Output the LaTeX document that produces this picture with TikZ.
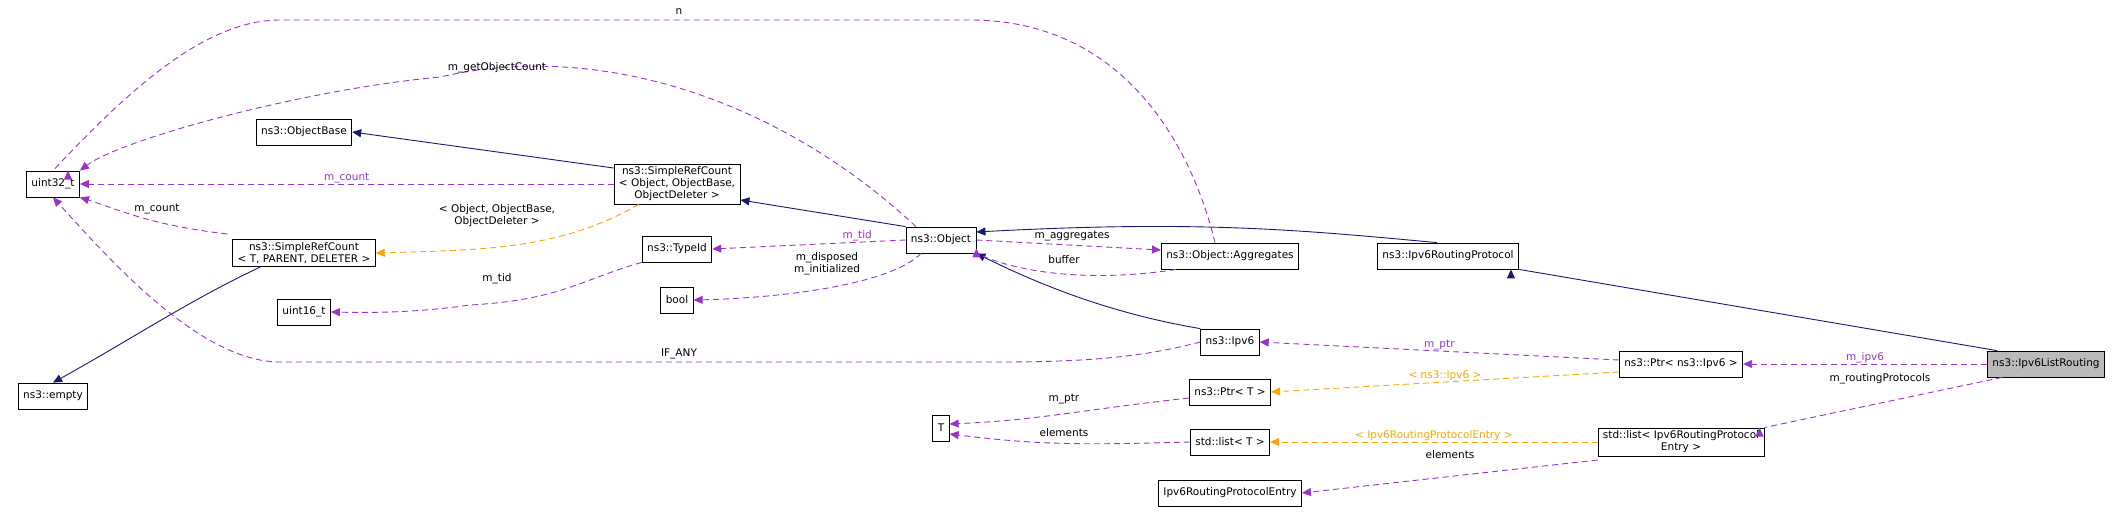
\documentclass[tikz,border=0pt]{standalone}
\usepackage{fontspec}
\setmainfont{DejaVu Sans}
\usetikzlibrary{arrows.meta}
\definecolor{inh}{HTML}{191970}
\definecolor{use}{HTML}{9A32CD}
\definecolor{tmpl}{HTML}{FFA500}
\tikzset{
  cls/.style={draw, line width=0.8pt, inner xsep=5pt, inner ysep=3pt, minimum height=26pt, align=center, font=\fontsize{10.5}{12}\selectfont},
  base/.style={inh, line width=0.9pt, -{Triangle[width=8pt,length=9pt]}},
  member/.style={use, line width=0.9pt, dash pattern=on 6pt off 4pt, -{Triangle[width=8pt,length=9pt]}},
  inst/.style={tmpl, line width=0.9pt, dash pattern=on 6pt off 4pt, -{Triangle[width=8pt,length=9pt]}},
  lbl/.style={font=\fontsize{10.5}{12}\selectfont, align=center, inner sep=1pt}
}
\begin{document}
\begin{tikzpicture}[x=1pt, y=-1pt]
  \useasboundingbox (0,0) rectangle (2125,512);
  % classes
  \node[cls] (u32) at (53,184) {uint32\_t};
  \node[cls] (objbase) at (304,132) {ns3::ObjectBase};
  \node[cls] (srcobj) at (677,184) {ns3::SimpleRefCount\\< Object, ObjectBase,\\ObjectDeleter >};
  \node[cls] (srct) at (304,253) {ns3::SimpleRefCount\\< T, PARENT, DELETER >};
  \node[cls] (empty) at (53,396) {ns3::empty};
  \node[cls] (typeid) at (677,249) {ns3::TypeId};
  \node[cls] (u16) at (304,312) {uint16\_t};
  \node[cls] (bool) at (677,300) {bool};
  \node[cls] (obj) at (941,240) {ns3::Object};
  \node[cls] (T) at (941,428) {T};
  \node[cls] (aggr) at (1230,256) {ns3::Object::Aggregates};
  \node[cls] (rproto) at (1448,256) {ns3::Ipv6RoutingProtocol};
  \node[cls] (ipv6) at (1230,342) {ns3::Ipv6};
  \node[cls] (ptrt) at (1230,392) {ns3::Ptr< T >};
  \node[cls] (listt) at (1230,442) {std::list< T >};
  \node[cls] (entry) at (1230,493) {Ipv6RoutingProtocolEntry};
  \node[cls] (ptripv6) at (1681,364) {ns3::Ptr< ns3::Ipv6 >};
  \node[cls] (listentry) at (1681,442) {std::list< Ipv6RoutingProtocol\\Entry >};
  \node[cls, fill=black!27] (lrouting) at (2046,364) {ns3::Ipv6ListRouting};

  % inheritance
  \draw[base] (srcobj.west |- 0,168) -- (objbase.east);
  \draw[base] (obj.north west) -- (srcobj.east |- 0,200);
  \draw[base] (rproto.north west) ++(60,0) .. controls (1300,230) and (1200,220) .. (obj.east |- 0,232);
  \draw[base] (ipv6.north west) .. controls (1120,315) and (1050,290) .. (obj.south east);
  \draw[base] (lrouting.north west) ++(10,0) -- (rproto.south east) ++(-8,0);
  \draw[base] (srct.south west) ++(28,0) .. controls (190,300) and (130,340) .. (empty.north);

  % members
  \draw[member] (srcobj.west) -- node[lbl, above] {m\_count} (u32.east);
  \draw[member] (srct.north west) ++(-5,-5) .. controls (150,225) and (120,210) .. (u32.south east);
  \node[lbl] at (157,209) {m\_count};
  \draw[member] (obj.north) ++(-25,0) .. controls (780,100) and (600,40) .. (440,77)
    .. controls (300,90) and (120,140) .. (u32.north east);
  \node[lbl] at (497,68) {m\_getObjectCount};
  \draw[member] (aggr.north) ++(-15,0) .. controls (1190,140) and (1120,20) .. (970,20)
    -- (280,20) .. controls (200,20) and (120,100) .. (u32.north) ++(15,0);
  \node[lbl] at (679,12) {n};
  \draw[member] (ipv6.west) .. controls (1150,355) and (1100,362) .. (1000,362)
    -- (280,362) .. controls (200,362) and (110,260) .. (u32.south);
  \node[lbl] at (679,354) {IF\_ANY};
  \draw[member] (obj.west) -- node[lbl, above, pos=0.25] {m\_tid} (typeid.east);
  \draw[member] (typeid.south west) .. controls (580,280) and (560,300) .. (470,305)
    .. controls (420,312) and (380,313) .. (u16.east);
  \node[lbl] at (497,279) {m\_tid};
  \draw[member] (obj.south) ++(-20,0) .. controls (890,285) and (780,298) .. (bool.east);
  \node[lbl] at (827,264) {m\_disposed\\m\_initialized};
  \draw[member] (obj.east) -- (aggr.west |- 0,250);
  \node[lbl] at (1072,236) {m\_aggregates};
  \draw[member] (aggr.south west) ++(15,0) .. controls (1110,280) and (1030,278) .. (obj.south east) ++(0,-5);
  \node[lbl] at (1064,260) {buffer};
  \draw[member] (ptripv6.west |- 0,360) -- node[lbl, above] {m\_ptr} (ipv6.east);
  \draw[member] (lrouting.west) -- node[lbl, above] {m\_ipv6} (ptripv6.east);
  \draw[member] (lrouting.south west) ++(15,0) -- (listentry.north east) ++(-5,0);
  \node[lbl] at (1880,379) {m\_routingProtocols};
  \draw[member] (ptrt.west |- 0,398) .. controls (1080,410) and (1040,420) .. (T.east |- 0,424);
  \node[lbl] at (1064,399) {m\_ptr};
  \draw[member] (listt.west) .. controls (1080,445) and (1040,445) .. (T.east |- 0,434);
  \node[lbl] at (1064,433) {elements};
  \draw[member] (listentry.west |- 0,460) -- (entry.east);
  \node[lbl] at (1450,455) {elements};

  % template instances
  \draw[inst] (srcobj.south west) ++(25,0) .. controls (560,250) and (480,250) .. (srct.east);
  \node[lbl] at (497,216) {< Object, ObjectBase,\\ObjectDeleter >};
  \draw[inst] (ptripv6.west |- 0,372) -- node[lbl, above] {< ns3::Ipv6 >} (ptrt.east);
  \draw[inst] (listentry.west) -- node[lbl, above] {< Ipv6RoutingProtocolEntry >} (listt.east);
\end{tikzpicture}
\end{document}
